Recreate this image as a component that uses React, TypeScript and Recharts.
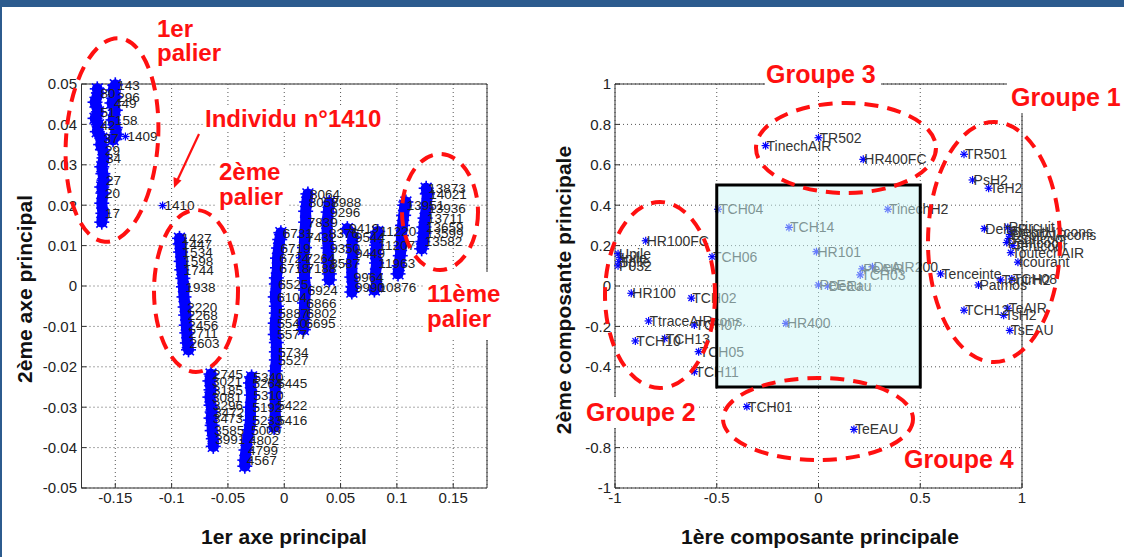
import React from 'react';
import { ScatterChart, Scatter, XAxis, YAxis, CartesianGrid, ReferenceArea } from 'recharts';

type Pt = { x: number; y: number; label?: string };

const FONT = '"Liberation Sans", Arial, Helvetica, sans-serif';
const BLUE = '#0000ff';
const RED = '#ff1010';
const FRAME = '#2c5b8e';

// ---- axis ticks ----
const leftXTicks = [-0.15, -0.1, -0.05, 0, 0.05, 0.1, 0.15];
const leftYTicks = [-0.05, -0.04, -0.03, -0.02, -0.01, 0, 0.01, 0.02, 0.03, 0.04, 0.05];
const rightXTicks = [-1, -0.5, 0, 0.5, 1];
const rightYTicks = [-1, -0.8, -0.6, -0.4, -0.2, 0, 0.2, 0.4, 0.6, 0.8, 1];
// tick label hidden in the reference behind the "Groupe 2" annotation
const rightYHiddenTicks = [-0.6];

// ---- left chart: individuals on the first two principal axes ----
const palier1A: Pt[] = [
  { x: -0.166, y: 0.0488 },
  { x: -0.165, y: 0.0478, label: '80' },
  { x: -0.168, y: 0.0455 },
  { x: -0.165, y: 0.0431, label: '51' },
  { x: -0.168, y: 0.0415 },
  { x: -0.165, y: 0.0399, label: '42' },
  { x: -0.166, y: 0.0382 },
  { x: -0.162, y: 0.0366, label: '37' },
  { x: -0.163, y: 0.035 },
  { x: -0.161, y: 0.0337, label: '29' },
  { x: -0.16, y: 0.0317, label: '34' },
  { x: -0.162, y: 0.0295 },
  { x: -0.161, y: 0.0278 },
  { x: -0.16, y: 0.0262, label: '27' },
  { x: -0.162, y: 0.0245 },
  { x: -0.161, y: 0.023, label: '20' },
  { x: -0.162, y: 0.0205 },
  { x: -0.161, y: 0.018, label: '17' },
  { x: -0.162, y: 0.0158 },
];
const palier1B: Pt[] = [
  { x: -0.15, y: 0.0498, label: '143' },
  { x: -0.152, y: 0.0485 },
  { x: -0.15, y: 0.0468, label: '296' },
  { x: -0.153, y: 0.0453, label: '449' },
  { x: -0.15, y: 0.0435 },
  { x: -0.152, y: 0.0411, label: '158' },
  { x: -0.15, y: 0.0392 },
  { x: -0.149, y: 0.0375 },
  { x: -0.152, y: 0.0362 },
];
const isolated: Pt[] = [
  { x: -0.141, y: 0.037, label: '1409' },
  { x: -0.108, y: 0.0199, label: '1410' },
];
const palier2: Pt[] = [
  { x: -0.093, y: 0.0118, label: '1427' },
  { x: -0.0925, y: 0.0104, label: '1447' },
  { x: -0.092, y: 0.0084, label: '1534' },
  { x: -0.0915, y: 0.0061, label: '1598' },
  { x: -0.091, y: 0.004, label: '1744' },
  { x: -0.09, y: 0.0019 },
  { x: -0.0895, y: -0.0002, label: '1938' },
  { x: -0.089, y: -0.0027 },
  { x: -0.088, y: -0.0052, label: '2220' },
  { x: -0.0875, y: -0.0072, label: '2268' },
  { x: -0.087, y: -0.0097, label: '2456' },
  { x: -0.0865, y: -0.0116, label: '2711' },
  { x: -0.086, y: -0.0141, label: '2603' },
  { x: -0.085, y: -0.0158 },
];
const palier3: Pt[] = [
  { x: -0.065, y: -0.0218, label: '2745' },
  { x: -0.066, y: -0.0235, label: '3021' },
  { x: -0.065, y: -0.0257, label: '3185' },
  { x: -0.066, y: -0.0275, label: '3081' },
  { x: -0.065, y: -0.0295, label: '3296' },
  { x: -0.064, y: -0.0312, label: '3472' },
  { x: -0.065, y: -0.0327, label: '3473' },
  { x: -0.064, y: -0.0345 },
  { x: -0.064, y: -0.0358, label: '3585' },
  { x: -0.063, y: -0.0378, label: '3991' },
  { x: -0.063, y: -0.0397 },
];
const palier4: Pt[] = [
  { x: -0.029, y: -0.0225, label: '5340' },
  { x: -0.03, y: -0.024, label: '5264' },
  { x: -0.029, y: -0.027, label: '5310' },
  { x: -0.03, y: -0.03, label: '5192' },
  { x: -0.03, y: -0.0332, label: '5233' },
  { x: -0.031, y: -0.0356, label: '5009' },
  { x: -0.033, y: -0.0381, label: '4802' },
  { x: -0.034, y: -0.0406, label: '4799' },
  { x: -0.035, y: -0.0431, label: '4567' },
  { x: -0.035, y: -0.0446 },
];
const palier5: Pt[] = [
  { x: -0.003, y: 0.0132, label: '6731' },
  { x: -0.004, y: 0.0115 },
  { x: -0.005, y: 0.0094, label: '6719' },
  { x: -0.006, y: 0.0069, label: '6724' },
  { x: -0.006, y: 0.0045, label: '6718' },
  { x: -0.007, y: 0.002 },
  { x: -0.007, y: 0.0005, label: '6525' },
  { x: -0.008, y: -0.0027, label: '6104' },
  { x: -0.007, y: -0.005 },
  { x: -0.007, y: -0.0067, label: '5887' },
  { x: -0.008, y: -0.0092, label: '5540' },
  { x: -0.008, y: -0.012, label: '5577' },
  { x: -0.007, y: -0.014 },
  { x: -0.007, y: -0.0163, label: '5734' },
  { x: -0.007, y: -0.0183, label: '5527' },
  { x: -0.008, y: -0.021 },
  { x: -0.008, y: -0.024, label: '5445' },
  { x: -0.008, y: -0.0265 },
  { x: -0.008, y: -0.0295, label: '5422' },
  { x: -0.008, y: -0.0332, label: '5416' },
  { x: -0.009, y: -0.035 },
];
const palier6: Pt[] = [
  { x: 0.021, y: 0.0228, label: '8064' },
  { x: 0.02, y: 0.0208, label: '8057' },
  { x: 0.019, y: 0.0185 },
  { x: 0.019, y: 0.0158, label: '7839' },
  { x: 0.018, y: 0.0121, label: '7432' },
  { x: 0.018, y: 0.0095 },
  { x: 0.017, y: 0.007, label: '7264' },
  { x: 0.018, y: 0.0045, label: '7188' },
  { x: 0.018, y: 0.002 },
  { x: 0.019, y: -0.001, label: '6924' },
  { x: 0.018, y: -0.0042, label: '6866' },
  { x: 0.018, y: -0.0067, label: '6802' },
  { x: 0.017, y: -0.0092, label: '6695' },
  { x: 0.017, y: -0.0108 },
];
const palier7: Pt[] = [
  { x: 0.04, y: 0.0207, label: '8988' },
  { x: 0.039, y: 0.0183, label: '9296' },
  { x: 0.038, y: 0.0155 },
  { x: 0.038, y: 0.0131, label: '8376' },
  { x: 0.039, y: 0.0094, label: '9350' },
  { x: 0.039, y: 0.0057, label: '8587' },
  { x: 0.04, y: 0.003 },
  { x: 0.04, y: 0.0015 },
];
const palier8: Pt[] = [
  { x: 0.056, y: 0.0142, label: '9419' },
  { x: 0.061, y: 0.0121, label: '9544' },
  { x: 0.06, y: 0.01 },
  { x: 0.061, y: 0.0082, label: '9449' },
  { x: 0.06, y: 0.0055 },
  { x: 0.06, y: 0.0022, label: '9964' },
  { x: 0.061, y: -0.0002, label: '9990' },
  { x: 0.06, y: -0.0015 },
];
const palier9: Pt[] = [
  { x: 0.083, y: 0.0135, label: '11220' },
  { x: 0.081, y: 0.012 },
  { x: 0.082, y: 0.0101, label: '11207' },
  { x: 0.081, y: 0.008 },
  { x: 0.082, y: 0.0057, label: '11963' },
  { x: 0.081, y: 0.003 },
  { x: 0.082, y: -0.0002, label: '10876' },
  { x: 0.08, y: -0.001 },
];
const palier10: Pt[] = [
  { x: 0.108, y: 0.0208 },
  { x: 0.107, y: 0.02, label: '13951' },
  { x: 0.106, y: 0.0175 },
  { x: 0.105, y: 0.015 },
  { x: 0.104, y: 0.0125 },
  { x: 0.104, y: 0.01 },
  { x: 0.103, y: 0.0075 },
  { x: 0.102, y: 0.005 },
  { x: 0.101, y: 0.003 },
];
const palier11: Pt[] = [
  { x: 0.126, y: 0.0242, label: '13873' },
  { x: 0.127, y: 0.0228, label: '14021' },
  { x: 0.126, y: 0.0193, label: '13936' },
  { x: 0.125, y: 0.0168, label: '13711' },
  { x: 0.124, y: 0.0146, label: '13659' },
  { x: 0.124, y: 0.0131, label: '13599' },
  { x: 0.123, y: 0.011, label: '13582' },
  { x: 0.122, y: 0.0092 },
];

const leftClusters: Pt[][] = [
  palier1A, palier1B, palier2, palier3, palier4, palier5,
  palier6, palier7, palier8, palier9, palier10, palier11,
];
const leftLabels: Pt[] = [...leftClusters.flat(), ...isolated].filter((p) => p.label);

// ---- right chart: variables on the correlation circle ----
const variables: Pt[] = [
  { x: -0.26, y: 0.695, label: 'TinechAIR' },
  { x: 0.0, y: 0.734, label: 'TR502' },
  { x: 0.22, y: 0.627, label: 'HR400FC' },
  { x: 0.715, y: 0.652, label: 'TR501' },
  { x: 0.757, y: 0.525, label: 'PsH2' },
  { x: 0.836, y: 0.484, label: 'TeH2' },
  { x: -0.494, y: 0.38, label: 'TCH04' },
  { x: 0.341, y: 0.38, label: 'TinechH2' },
  { x: -0.145, y: 0.29, label: 'TCH14' },
  { x: 0.815, y: 0.284, label: 'DeltaP' },
  { x: 0.93, y: 0.29, label: 'Pcircuit' },
  { x: 0.95, y: 0.27, label: 'DebitH2cons' },
  { x: 0.94, y: 0.255, label: 'DebitAIRcons' },
  { x: 0.935, y: 0.235, label: 'Tsortcoor' },
  { x: 0.925, y: 0.215, label: 'Pentcoor' },
  { x: 0.955, y: 0.2, label: 'Tentcoor' },
  { x: 0.945, y: 0.165, label: 'ToutechAIR' },
  { x: 0.98, y: 0.118, label: 'Icourant' },
  { x: -0.01, y: 0.17, label: 'HR101' },
  { x: -0.849, y: 0.224, label: 'HR100FC' },
  { x: -0.523, y: 0.145, label: 'TCH06' },
  { x: -0.985, y: 0.16, label: 'Upile' },
  { x: -0.975, y: 0.14, label: 'Ipile' },
  { x: -0.98, y: 0.12, label: 'Tpile' },
  { x: -0.985, y: 0.1, label: 'P032' },
  { x: 0.205, y: 0.055, label: 'TCH03' },
  { x: 0.215, y: 0.085, label: 'PeAIR' },
  { x: 0.265, y: 0.095, label: 'DeAIR200' },
  { x: 0.6, y: 0.06, label: 'Tenceinte' },
  { x: 0.0, y: 0.005, label: 'PeEau' },
  { x: 0.045, y: 0.0, label: 'DeEau' },
  { x: 0.786, y: 0.005, label: 'Patmos' },
  { x: 0.895, y: 0.03, label: 'TentrH2' },
  { x: 0.95, y: 0.035, label: 'TCH08' },
  { x: -0.92, y: -0.036, label: 'HR100' },
  { x: -0.625, y: -0.06, label: 'TCH02' },
  { x: 0.715, y: -0.12, label: 'TCH12' },
  { x: 0.93, y: -0.11, label: 'TeAIR' },
  { x: 0.91, y: -0.145, label: 'TsH2' },
  { x: 0.94, y: -0.22, label: 'TsEAU' },
  { x: -0.835, y: -0.173, label: 'TtraceAIRcons.' },
  { x: -0.61, y: -0.193, label: 'TCH07' },
  { x: -0.16, y: -0.185, label: 'HR400' },
  { x: -0.9, y: -0.272, label: 'TCH10' },
  { x: -0.756, y: -0.26, label: 'TCH13' },
  { x: -0.589, y: -0.325, label: 'TCH05' },
  { x: -0.61, y: -0.424, label: 'TCH11' },
  { x: -0.352, y: -0.597, label: 'TCH01' },
  { x: 0.174, y: -0.71, label: 'TeEAU' },
];

// ---- shapes ----
function makeStar(r: number, color: string, w: number) {
  return (props: any) => {
    const { cx, cy } = props;
    if (cx == null || cy == null) return <g />;
    const d = r * 0.72;
    return (
      <g stroke={color} strokeWidth={w} fill="none">
        <line x1={cx - r} y1={cy} x2={cx + r} y2={cy} />
        <line x1={cx} y1={cy - r} x2={cx} y2={cy + r} />
        <line x1={cx - d} y1={cy - d} x2={cx + d} y2={cy + d} />
        <line x1={cx - d} y1={cy + d} x2={cx + d} y2={cy - d} />
      </g>
    );
  };
}
function makeLabel(size: number, color: string, dx: number) {
  return (props: any) => {
    const { cx, cy, payload } = props;
    if (cx == null || cy == null) return <g />;
    return (
      <text x={cx + dx} y={cy + size * 0.36} fontSize={size} fill={color} fontFamily={FONT}>
        {payload?.label}
      </text>
    );
  };
}
const clusterStar = makeStar(7.5, BLUE, 1.6);
const smallStar = makeStar(4, BLUE, 1.2);
const leftLabel = makeLabel(13.5, '#222', 2);
const rightLabel = makeLabel(14, '#333', 1);

const tickStyle = { fontSize: 15, fill: '#222', fontFamily: FONT };
const lineStyle = { stroke: '#333' };
const rightYFormat = (v: number) => (rightYHiddenTicks.includes(v) ? '' : String(v));

function Dashed({ cx, cy, rx, ry, rot = 0 }: { cx: number; cy: number; rx: number; ry: number; rot?: number }) {
  return (
    <ellipse
      cx={cx}
      cy={cy}
      rx={rx}
      ry={ry}
      transform={`rotate(${rot} ${cx} ${cy})`}
      fill="none"
      stroke={RED}
      strokeWidth={4}
      strokeDasharray="14 9"
    />
  );
}

function RedText({ x, y, children, size = 24 }: { x: number; y: number; children: React.ReactNode; size?: number }) {
  return (
    <text x={x} y={y} fill={RED} fontSize={size} fontWeight="bold" fontFamily={FONT}>
      {children}
    </text>
  );
}

// plot rectangles: left 81.5..487 x 84..488 ; right 615..1022 x 84..488
export default function App() {
  return (
    <div style={{ position: 'absolute', left: 0, top: 0, width: 1124, height: 557, background: '#fff', overflow: 'hidden' }}>
      <div style={{ position: 'absolute', left: 0, top: 0 }}>
        <ScatterChart width={560} height={557} margin={{ top: 74, right: 63, bottom: 39, left: 21.5 }}>
          <CartesianGrid stroke="#555" strokeDasharray="1 3" />
          <XAxis
            dataKey="x" type="number" domain={[-0.18, 0.18]} ticks={leftXTicks} interval={0}
            height={30} tickSize={-5} tickMargin={9} tick={tickStyle}
            axisLine={lineStyle} tickLine={lineStyle}
          />
          <XAxis
            xAxisId="top" orientation="top" dataKey="x" type="number" domain={[-0.18, 0.18]}
            ticks={leftXTicks} interval={0} height={10} tickSize={-5} tick={false}
            axisLine={lineStyle} tickLine={lineStyle}
          />
          <YAxis
            dataKey="y" type="number" domain={[-0.05, 0.05]} ticks={leftYTicks} interval={0}
            width={60} tickSize={-5} tickMargin={9.5} tick={tickStyle}
            axisLine={lineStyle} tickLine={lineStyle}
          />
          <YAxis
            yAxisId="right" orientation="right" dataKey="y" type="number" domain={[-0.05, 0.05]}
            ticks={leftYTicks} interval={0} width={10} tickSize={-5} tick={false}
            axisLine={lineStyle} tickLine={lineStyle}
          />
          {leftClusters.map((c, i) => (
            <Scatter
              key={i}
              data={c}
              fill={BLUE}
              shape={clusterStar}
              line={{ stroke: BLUE, strokeWidth: 11, strokeLinecap: 'round', strokeLinejoin: 'round' }}
              lineType="joint"
              isAnimationActive={false}
            />
          ))}
          <Scatter data={isolated} fill={BLUE} shape={smallStar} isAnimationActive={false} />
          <Scatter data={leftLabels} fill="#222" shape={leftLabel} isAnimationActive={false} />
        </ScatterChart>
      </div>

      <div style={{ position: 'absolute', left: 560, top: 0 }}>
        <ScatterChart width={564} height={557} margin={{ top: 74, right: 92, bottom: 39, left: -5 }}>
          <CartesianGrid stroke="#555" strokeDasharray="1 3" />
          <XAxis
            dataKey="x" type="number" domain={[-1, 1]} ticks={rightXTicks} interval={0}
            height={30} tickSize={-5} tickMargin={9} tick={tickStyle}
            axisLine={lineStyle} tickLine={lineStyle}
          />
          <XAxis
            xAxisId="top" orientation="top" dataKey="x" type="number" domain={[-1, 1]}
            ticks={rightXTicks} interval={0} height={10} tickSize={-5} tick={false}
            axisLine={lineStyle} tickLine={lineStyle}
          />
          <YAxis
            dataKey="y" type="number" domain={[-1, 1]} ticks={rightYTicks} interval={0}
            width={60} tickSize={-5} tickMargin={9} tick={tickStyle} tickFormatter={rightYFormat}
            axisLine={lineStyle} tickLine={lineStyle}
          />
          <YAxis
            yAxisId="right" orientation="right" dataKey="y" type="number" domain={[-1, 1]}
            ticks={rightYTicks} interval={0} width={10} tickSize={-5} tick={false}
            axisLine={lineStyle} tickLine={lineStyle}
          />
          <Scatter data={variables} fill={BLUE} shape={smallStar} isAnimationActive={false} />
          <Scatter data={variables} fill="#333" shape={rightLabel} isAnimationActive={false} />
          <ReferenceArea
            x1={-0.5} x2={0.5} y1={-0.5} y2={0.5}
            fill="#ccf5f5" fillOpacity={0.5} stroke="#000" strokeWidth={3}
            zIndex={2500}
          />
        </ScatterChart>
      </div>

      <svg width={1124} height={557} style={{ position: 'absolute', left: 0, top: 0, pointerEvents: 'none' }}>
        {/* slide frame */}
        <rect x={0} y={0} width={1124} height={7} fill={FRAME} />
        <rect x={0} y={0} width={2} height={557} fill={FRAME} />

        {/* white backgrounds of annotation texts */}
        <rect x={203} y={106} width={186} height={26} fill="#fff" />
        <rect x={216} y={160} width={72} height={52} fill="#fff" />
        <rect x={424} y={272} width={82} height={68} fill="#fff" />
        <rect x={765} y={62} width={116} height={28} fill="#fff" />
        <rect x={1007} y={78} width={117} height={35} fill="#fff" />
        <rect x={583} y={397} width={116} height={31} fill="#fff" />
        <rect x={902} y={450} width={114} height={22} fill="#fff" />

        {/* axis titles */}
        <text x={284} y={544} textAnchor="middle" fontSize={21} fontWeight="bold" fontFamily={FONT} fill="#111">1er axe principal</text>
        <text x={32} y={289} textAnchor="middle" fontSize={21} fontWeight="bold" fontFamily={FONT} fill="#111" transform="rotate(-90 32 289)">2ème axe principal</text>
        <text x={820} y={544} textAnchor="middle" fontSize={21} fontWeight="bold" fontFamily={FONT} fill="#111">1ère composante principale</text>
        <text x={571} y={290} textAnchor="middle" fontSize={21} fontWeight="bold" fontFamily={FONT} fill="#111" transform="rotate(-90 571 290)">2ème composante principale</text>

        {/* left annotations */}
        <Dashed cx={112} cy={140} rx={46} ry={102} rot={4} />
        <Dashed cx={196} cy={291} rx={42} ry={81} />
        <Dashed cx={440} cy={212} rx={38} ry={58} />
        <RedText x={157} y={37}>1er</RedText>
        <RedText x={157} y={61}>palier</RedText>
        <RedText x={205} y={127}>Individu n°1410</RedText>
        <RedText x={219} y={180}>2ème</RedText>
        <RedText x={219} y={205}>palier</RedText>
        <RedText x={427} y={302}>11ème</RedText>
        <RedText x={427} y={327}>palier</RedText>
        <line x1={199} y1={134} x2={177} y2={181} stroke={RED} strokeWidth={2.2} />
        <polygon points="174,188 173.5,177 181.5,180.5" fill={RED} />

        {/* right annotations */}
        <Dashed cx={846} cy={148} rx={90} ry={45} />
        <Dashed cx={994} cy={242} rx={66} ry={120} />
        <Dashed cx={660} cy={295} rx={55} ry={93} />
        <Dashed cx={818} cy={419} rx={95} ry={41} />
        <RedText x={766} y={83} size={25}>Groupe 3</RedText>
        <RedText x={1011} y={106} size={25}>Groupe 1</RedText>
        <RedText x={586} y={421} size={25}>Groupe 2</RedText>
        <RedText x={904} y={468} size={25}>Groupe 4</RedText>
      </svg>
    </div>
  );
}
